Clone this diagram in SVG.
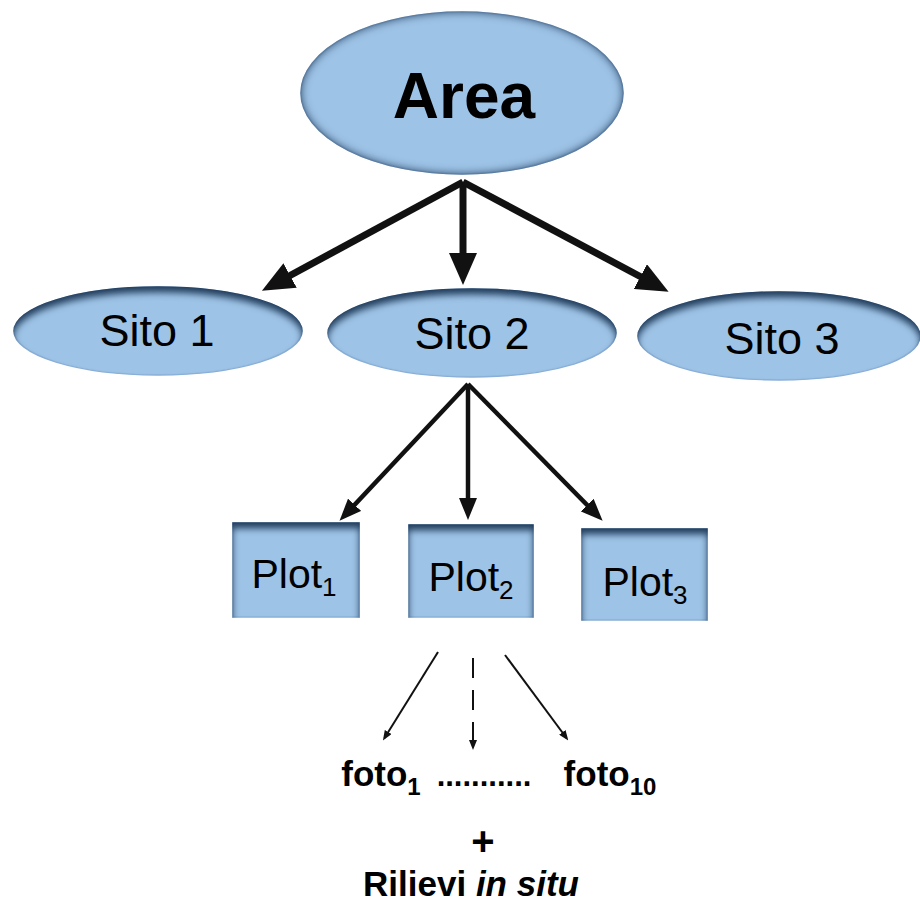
<svg xmlns="http://www.w3.org/2000/svg" width="920" height="905" viewBox="0 0 920 905">
<style>
.node{fill:#9DC3E6;stroke:#8DB3DC;stroke-width:1.5}
.lbl{font-family:"Liberation Sans",Arial,sans-serif;fill:#000;text-anchor:middle}
.thick{stroke:#111;stroke-width:7;fill:none}
.mid{stroke:#111;stroke-width:4.5;fill:none}
.thin{stroke:#111;stroke-width:2;fill:none}
</style>
<defs>
<filter id="inner" x="-10%" y="-20%" width="120%" height="140%" color-interpolation-filters="sRGB">
<feFlood flood-color="#223d5c" flood-opacity="1"/>
<feComposite in2="SourceAlpha" operator="out"/>
<feOffset dy="6"/>
<feGaussianBlur stdDeviation="3.5"/>
<feComposite in2="SourceAlpha" operator="in" result="sh"/>
<feMerge><feMergeNode in="SourceGraphic"/><feMergeNode in="sh"/></feMerge>
</filter>
<filter id="innerA" x="-10%" y="-20%" width="120%" height="140%" color-interpolation-filters="sRGB">
<feFlood flood-color="#223d5c" flood-opacity="1"/>
<feComposite in2="SourceAlpha" operator="out"/>
<feGaussianBlur stdDeviation="5"/>
<feComposite in2="SourceAlpha" operator="in" result="sh"/>
<feMerge><feMergeNode in="SourceGraphic"/><feMergeNode in="sh"/></feMerge>
</filter>
<marker id="hBig" viewBox="0 0 32 28" refX="20" refY="14" markerWidth="32" markerHeight="28" markerUnits="userSpaceOnUse" orient="auto">
<path d="M0,0 L32,14 L0,28 Z" fill="#111"/>
</marker>
<marker id="hMid" viewBox="0 0 22 18" refX="14" refY="9" markerWidth="22" markerHeight="18" markerUnits="userSpaceOnUse" orient="auto">
<path d="M0,0 L22,9 L0,18 Z" fill="#111"/>
</marker>
<marker id="hThin" viewBox="0 0 10 8" refX="7" refY="4" markerWidth="10" markerHeight="8" markerUnits="userSpaceOnUse" orient="auto">
<path d="M0,0 L10,4 L0,8 Z" fill="#111"/>
</marker>
</defs>
<rect width="920" height="905" fill="#fff"/>

<g id="connectors">
<line class="thick" x1="463" y1="182" x2="272.5" y2="285" marker-end="url(#hBig)"/>
<line class="thick" x1="463" y1="182" x2="463" y2="273" marker-end="url(#hBig)"/>
<line class="thick" x1="463" y1="182" x2="658" y2="286" marker-end="url(#hBig)"/>
<line class="mid" x1="468" y1="384" x2="345" y2="515" marker-end="url(#hMid)"/>
<line class="mid" x1="468" y1="384" x2="468" y2="512" marker-end="url(#hMid)"/>
<line class="mid" x1="468" y1="384" x2="597" y2="515" marker-end="url(#hMid)"/>
<line class="thin" x1="438" y1="652" x2="384.5" y2="738" marker-end="url(#hThin)"/>
<line class="thin" x1="473" y1="658" x2="473" y2="747" stroke-dasharray="20,12" marker-end="url(#hThin)"/>
<line class="thin" x1="505" y1="655" x2="566.5" y2="738" marker-end="url(#hThin)"/>
</g>

<g id="area">
<ellipse class="node" cx="462" cy="93" rx="161" ry="81" filter="url(#innerA)"/>
<text class="lbl" x="464" y="118" font-size="64" font-weight="bold">Area</text>
</g>
<g id="sito1">
<ellipse class="node" cx="158" cy="331" rx="144" ry="44" filter="url(#inner)"/>
<text class="lbl" x="157" y="346" font-size="45">Sito 1</text>
</g>
<g id="sito2">
<ellipse class="node" cx="472" cy="333" rx="144" ry="44" filter="url(#inner)"/>
<text class="lbl" x="472" y="349" font-size="45">Sito 2</text>
</g>
<g id="sito3">
<ellipse class="node" cx="779" cy="336" rx="141" ry="44" filter="url(#inner)"/>
<text class="lbl" x="782" y="354" font-size="45">Sito 3</text>
</g>

<g id="plot1">
<rect class="node" x="233" y="523" width="126" height="94" filter="url(#inner)"/>
<text class="lbl" x="294" y="588" font-size="41">Plot<tspan font-size="26" dy="8">1</tspan></text>
</g>
<g id="plot2">
<rect class="node" x="409" y="525" width="124" height="92" filter="url(#inner)"/>
<text class="lbl" x="471" y="591" font-size="41">Plot<tspan font-size="26" dy="8">2</tspan></text>
</g>
<g id="plot3">
<rect class="node" x="582" y="529" width="125" height="91" filter="url(#inner)"/>
<text class="lbl" x="645" y="596" font-size="41">Plot<tspan font-size="26" dy="8">3</tspan></text>
</g>

<g id="foto1">
<text class="lbl" x="381" y="786" font-size="35" font-weight="bold">foto<tspan font-size="24" dy="9">1</tspan></text>
</g>
<g id="dots">
<text class="lbl" x="484" y="786" font-size="31" font-weight="bold">...........</text>
</g>
<g id="foto10">
<text class="lbl" x="610" y="786" font-size="35" font-weight="bold">foto<tspan font-size="24" dy="9">10</tspan></text>
</g>
<g id="plus">
<text class="lbl" x="483" y="855" font-size="40" font-weight="bold">+</text>
</g>
<g id="rilievi">
<text class="lbl" x="471" y="896" font-size="35" font-weight="bold">Rilievi <tspan font-style="italic">in situ</tspan></text>
</g>
</svg>
